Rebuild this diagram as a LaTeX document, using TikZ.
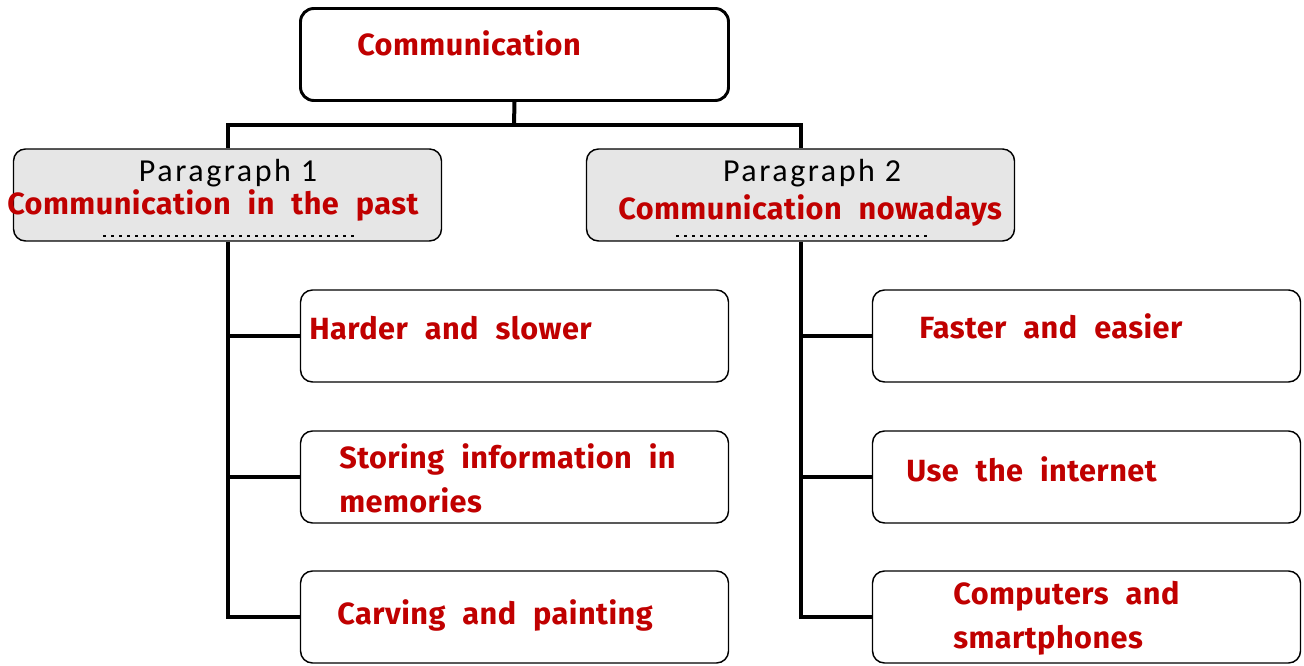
\documentclass[tikz,border=0pt]{standalone}
\usepackage{fontspec}
\newfontfamily\redfont{Fira Sans}[UprightFont=* Bold, LetterSpace=1.5, WordSpace=2.2]
\newfontfamily\parafont{Carlito}[LetterSpace=8]
\definecolor{darkred}{HTML}{C00000}
\definecolor{boxgray}{HTML}{E6E6E6}
\begin{document}
\begin{tikzpicture}[x=0.75pt,y=-0.75pt,
  topbox/.style={draw=black, line width=2.2pt, rounded corners=10pt, fill=white, minimum width=321pt, minimum height=69pt, inner sep=0pt},
  parabox/.style={draw=black, line width=1.1pt, rounded corners=9pt, fill=boxgray, minimum width=321pt, minimum height=69pt, inner sep=0pt},
  leafbox/.style={draw=black, line width=1.1pt, rounded corners=9pt, fill=white, minimum width=321pt, minimum height=69pt, inner sep=0pt},
  redtext/.style={text=darkred, font=\redfont\fontsize{23}{33}\selectfont, align=left, inner sep=0pt},
  paratext/.style={text=black, font=\parafont\fontsize{24}{28}\selectfont, inner sep=0pt},
  conn/.style={line width=3pt},
  dots/.style={line width=2.2pt, dash pattern=on 2.2pt off 3.8pt}
]
\useasboundingbox (0,0) rectangle (1304,666);
% boxes
\node[topbox] (top) at (514.5,54.5) {};
\node[parabox] (p1) at (227.5,195) {};
\node[parabox] (p2) at (800.5,195) {};
\node[leafbox] (l1) at (514.5,336) {};
\node[leafbox] (l2) at (514.5,477) {};
\node[leafbox] (l3) at (514.5,617) {};
\node[leafbox] (r1) at (1086.5,336) {};
\node[leafbox] (r2) at (1086.5,477) {};
\node[leafbox] (r3) at (1086.5,617) {};
% connectors
\coordinate (bus) at (514,125);
\draw[conn] (top.south) -- (bus);
\draw[conn] (bus) -| (p1.north);
\draw[conn] (bus) -| (p2.north);
\draw[conn] (p1.south) -- (p1.south |- l3.west) -- (l3.west);
\draw[conn] (p1.south |- l1.west) -- (l1.west);
\draw[conn] (p1.south |- l2.west) -- (l2.west);
\draw[conn] (p2.south) -- (p2.south |- r3.west) -- (r3.west);
\draw[conn] (p2.south |- r1.west) -- (r1.west);
\draw[conn] (p2.south |- r2.west) -- (r2.west);
% texts
\node[redtext, anchor=west] (ttop) at (357,43) {Communication};
\node[paratext] (pt1) at (228,173) {Paragraph 1};
\node[redtext, anchor=west] (pr1) at (7,205) {Communication in the past};
\node[paratext] (pt2) at (812,173) {Paragraph 2};
\node[redtext, anchor=west] (pr2) at (618,210) {Communication nowadays};
\draw[dots] (103,236) -- (354,236);
\draw[dots] (676,236) -- (927,236);
\node[redtext, anchor=west] (tl1) at (309,328) {Harder and slower};
\node[redtext, anchor=west] (tl2) at (339,478) {Storing information in\\memories};
\node[redtext, anchor=west] (tl3) at (337,615) {Carving and painting};
\node[redtext, anchor=west] (tr1) at (919,326) {Faster and easier};
\node[redtext, anchor=west] (tr2) at (906,469) {Use the internet};
\node[redtext, anchor=west] (tr3) at (953,618) {Computers and\\smartphones};
\end{tikzpicture}
\end{document}
